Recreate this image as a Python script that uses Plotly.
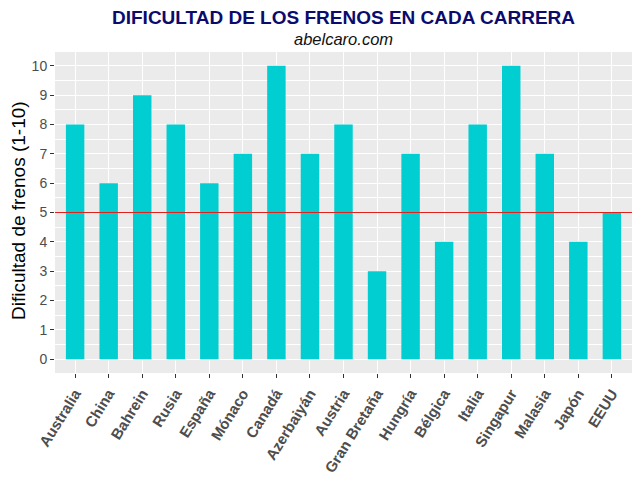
import plotly.graph_objects as go

carreras = ["Australia", "China", "Bahrein", "Rusia", "España", "Mónaco", "Canadá",
            "Azerbaiyán", "Austria", "Gran Bretaña", "Hungría", "Bélgica", "Italia",
            "Singapur", "Malasia", "Japón", "EEUU"]
dificultad = [8, 6, 9, 8, 6, 7, 10, 7, 8, 3, 7, 4, 8, 10, 7, 4, 5]
umbral = 5
y_ticks = list(range(0, 11))

OFF = 8  # page body margin
W, H = 640 - OFF, 477 - OFF
# panel edges in screen pixels
PL, PR, PT, PB = 55, 632, 52, 373
L, R, T, B = PL - OFF, W - (PR - OFF), PT - OFF, H - (PB - OFF)
FONT = "Liberation Sans, Arial, sans-serif"

fig = go.Figure()
fig.add_trace(go.Bar(
    x=carreras, y=dificultad,
    marker=dict(color="#00CED1", line=dict(width=0)),
    width=0.55,
))
fig.add_hline(y=umbral, line=dict(color="#E0201B", width=1.1), layer="above")

def px_x(p):
    return (p - PL) / (PR - PL)

def px_y(p):
    return (PB - p) / (PB - PT)

fig.update_layout(
    width=W, height=H,
    margin=dict(l=L, r=R, t=T, b=B, autoexpand=False),
    paper_bgcolor="white",
    plot_bgcolor="#EBEBEB",
    showlegend=False,
    font=dict(family=FONT, color="#4D4D4D"),
    annotations=[
        dict(text="<b>DIFICULTAD DE LOS FRENOS EN CADA CARRERA</b>",
             xref="paper", yref="paper", x=px_x(343), y=px_y(17),
             xanchor="center", yanchor="middle", showarrow=False,
             font=dict(size=19, color="#0B0B6E", family=FONT)),
        dict(text="<i>abelcaro.com</i>",
             xref="paper", yref="paper", x=px_x(343), y=px_y(39),
             xanchor="center", yanchor="middle", showarrow=False,
             font=dict(size=16.5, color="#111111", family=FONT)),
        dict(text="Dificultad de frenos (1-10)",
             xref="paper", yref="paper", x=px_x(18), y=px_y(211),
             xanchor="center", yanchor="middle", showarrow=False, textangle=-90,
             font=dict(size=19, color="#000000", family=FONT)),
    ],
)
fig.update_xaxes(
    range=[-0.6, len(carreras) - 0.4],
    showgrid=True, gridcolor="white", gridwidth=1.1,
    ticks="outside", ticklen=4, tickcolor="#333333", tickwidth=1,
    tickangle=-58, automargin=False, ticklabelstandoff=1,
    tickfont=dict(size=15, color="#4D4D4D", family=FONT, weight="bold"),
    zeroline=False, showline=False,
)
fig.update_yaxes(
    range=[-0.47, 10.47],
    tickvals=y_ticks, automargin=False,
    showgrid=True, gridcolor="white", gridwidth=1.1,
    minor=dict(dtick=0.5, tick0=0, showgrid=True, gridcolor="white", gridwidth=0.5, ticks=""),
    ticks="outside", ticklen=4, tickcolor="#333333", tickwidth=1,
    tickfont=dict(size=14, color="#4D4D4D"),
    zeroline=False, showline=False,
)

fig.write_html("out.html")
